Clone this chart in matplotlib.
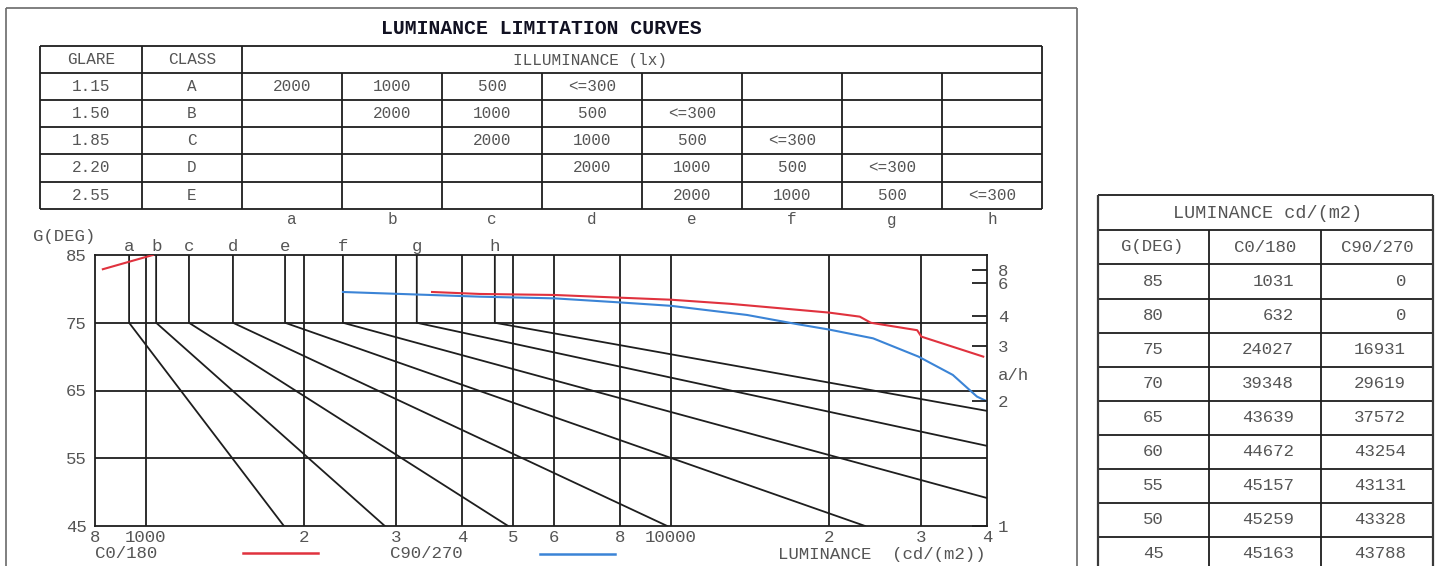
import numpy as np
import matplotlib
matplotlib.use("Agg")
import matplotlib.pyplot as plt
from matplotlib.ticker import NullLocator

# ---------------- data ----------------
glare_values = ["1.15", "1.50", "1.85", "2.20", "2.55"]
glare_classes = ["A", "B", "C", "D", "E"]
illuminance_levels = ["2000", "1000", "500", "<=300"]
curve_letters = ["a", "b", "c", "d", "e", "f", "g", "h"]

# limiting curves a..h : luminance at 75 deg (vertical part up to 85) and at 45 deg
curve_lum_75 = [929, 1046, 1208, 1465, 1841, 2373, 3281, 4620]
curve_lum_45 = [1832, 2852, 4898, 9840, 23440, 62800, 203700, 671000]

# luminance table
table_angles = [85, 80, 75, 70, 65, 60, 55, 50, 45]
table_c0 = [1031, 632, 24027, 39348, 43639, 44672, 45157, 45259, 45163]
table_c90 = [0, 0, 16931, 29619, 37572, 43254, 43131, 43328, 43788]

# C0/180 curve
c0_top_lum = [828, 1031]
c0_top_deg = [82.9, 85.0]
c0_lum = [3508, 4325, 6000, 8000, 10000, 12940, 20000, 22900, 24027, 29450, 30000, 39348]
c0_deg = [79.54, 79.25, 79.1, 78.7, 78.4, 77.8, 76.5, 75.9, 75.0, 73.9, 72.95, 70.0]

# C90/270 curve
c90_lum = [2373, 4325, 6000, 8000, 10000, 13960, 17380, 20000, 24270, 29619, 34430, 38280, 40000]
c90_deg = [79.54, 78.85, 78.6, 78.0, 77.5, 76.15, 74.8, 74.0, 72.7, 70.0, 67.3, 64.1, 63.4]

# axes ticks
x_ticks = [800, 1000, 2000, 3000, 4000, 5000, 6000, 8000, 10000, 20000, 30000, 40000]
x_tick_labels = ["8", "1000", "2", "3", "4", "5", "6", "8", "10000", "2", "3", "4"]
y_ticks = [85, 75, 65, 55, 45]
ah_tick_deg = [82.8, 80.9, 76.0, 71.6, 63.5, 45.0]
ah_tick_labels = ["8", "6", "4", "3", "2", "1"]

# ---------------- style ----------------
MONO = ["Liberation Mono", "DejaVu Sans Mono"]
LINE = "#1e1e1e"
TXT = "#555555"
RED = "#e0323e"
BLUE = "#3b84d6"
W, H = 1441, 566
FS = 12.5

fig = plt.figure(figsize=(W / 100, H / 100), dpi=100)
bg = fig.add_axes([0, 0, 1, 1], zorder=0)
bg.set_xlim(0, W)
bg.set_ylim(H, 0)
bg.axis("off")

def hline(y, x0, x1, lw=1.3, c=LINE):
    bg.plot([x0, x1], [y, y], color=c, lw=lw, solid_capstyle="butt")

def vline(x, y0, y1, lw=1.3, c=LINE):
    bg.plot([x, x], [y0, y1], color=c, lw=lw, solid_capstyle="butt")

def txt(x, y, s, size=11.5, ha="center", **kw):
    bg.text(x, y, s, fontsize=size, ha=ha, va="center", family=MONO, color=kw.pop("color", TXT), **kw)

# outer frame
hline(8, 6, 1077, lw=1.2, c="#6a6a6a")
vline(6, 8, H + 5, lw=1.2, c="#6a6a6a")
vline(1077, 8, H + 5, lw=1.2, c="#6a6a6a")

# title
txt(541, 28, "LUMINANCE LIMITATION CURVES", size=14.2, color="#111122", fontweight="bold")

# ---- top table ----
t_left, t_right = 40, 1042
row_y = [46, 73, 100, 127, 154, 182, 209]
col_x = [40, 142, 242, 342, 442, 542, 642, 742, 842, 942, 1042]
for y in row_y:
    hline(y, t_left, t_right)
for i, x in enumerate(col_x):
    if i <= 2 or i == len(col_x) - 1:
        vline(x, row_y[0], row_y[-1])
    else:
        vline(x, row_y[1], row_y[-1])
txt(91, 60, "GLARE")
txt(192, 60, "CLASS")
txt(590, 60, "ILLUMINANCE (lx)")
for r, (g, c) in enumerate(zip(glare_values, glare_classes)):
    yc = (row_y[r + 1] + row_y[r + 2]) / 2
    txt(91, yc, g)
    txt(192, yc, c)
    for k, lev in enumerate(illuminance_levels):
        col = r + k
        xc = (col_x[2 + col] + col_x[3 + col]) / 2
        txt(xc, yc, lev)
for k, lt in enumerate(curve_letters):
    xc = (col_x[2 + k] + col_x[3 + k]) / 2
    txt(xc, 220, lt)

# ---- right table ----
r_left, r_right = 1098, 1433
r_cols = [1098, 1209, 1321, 1433]
r_rows = [195, 230, 264, 299, 333, 367, 401, 435, 469, 503, 537, 571]
for y in r_rows:
    hline(y, r_left, r_right)
vline(r_left, r_rows[0], r_rows[-1], lw=1.6, c="#3a3a3a")
vline(r_right, r_rows[0], r_rows[-1], lw=1.6, c="#3a3a3a")
for x in r_cols[1:-1]:
    vline(x, r_rows[1], r_rows[-1])
txt(1268, 213, "LUMINANCE cd/(m2)", size=13.3)
txt(1152, 247, "G(DEG)", size=FS)
txt(1265, 247, "C0/180", size=FS)
txt(1377, 247, "C90/270", size=FS)
for i, (a, v0, v90) in enumerate(zip(table_angles, table_c0, table_c90)):
    yc = (r_rows[i + 2] + r_rows[i + 3]) / 2
    txt(1153, yc, str(a), size=FS)
    txt(1294, yc, str(v0), size=FS, ha="right")
    txt(1406, yc, str(v90), size=FS, ha="right")

# ---- legend ----
txt(95, 554, "C0/180", size=FS, ha="left")
bg.plot([243, 318], [553, 553], color=RED, lw=1.8)
txt(390, 554, "C90/270", size=FS, ha="left")
bg.plot([540, 615], [554, 554], color=BLUE, lw=1.8)
txt(986, 554, "LUMINANCE  (cd/(m2))", size=FS, ha="right")
txt(33, 236, "G(DEG)", size=FS, ha="left")
txt(998, 375, "a/h", size=FS, ha="left")

# ---------------- main chart ----------------
ax_l, ax_r, ax_t, ax_b = 95, 987, 255, 526
ax = fig.add_axes([ax_l / W, (H - ax_b) / H, (ax_r - ax_l) / W, (ax_b - ax_t) / H], zorder=2)
ax.set_facecolor("none")
ax.set_xscale("log")
ax.set_xlim(800, 40000)
ax.set_ylim(45, 85)
for s in ax.spines.values():
    s.set_color(LINE)
    s.set_linewidth(1.3)

# grid
for xv in x_ticks[1:-1]:
    ax.axvline(xv, color=LINE, lw=1.3)
for yv in y_ticks[1:-1]:
    ax.axhline(yv, color=LINE, lw=1.3)

# limiting curves
for lt, l75, l45 in zip(curve_letters, curve_lum_75, curve_lum_45):
    ax.plot([l75, l75, l45], [85, 75, 45], color=LINE, lw=1.3)
    ax.text(l75, 1.033, lt, transform=ax.get_xaxis_transform(), ha="center", va="center",
            fontsize=FS, family=MONO, color=TXT)

# measured curves
ax.plot(c0_top_lum, c0_top_deg, color=RED, lw=1.5, zorder=5)
ax.plot(c0_lum, c0_deg, color=RED, lw=1.5, zorder=5)
ax.plot(c90_lum, c90_deg, color=BLUE, lw=1.5, zorder=5)

ax.xaxis.set_minor_locator(NullLocator())
ax.set_xticks(x_ticks)
ax.set_xticklabels(x_tick_labels)
ax.set_yticks(y_ticks)
ax.tick_params(axis="both", length=0, labelsize=FS, labelcolor=TXT)
ax.tick_params(axis="x", pad=3)
ax.tick_params(axis="y", pad=6)
for lab in ax.get_xticklabels() + ax.get_yticklabels():
    lab.set_family(MONO)

ax2 = ax.twinx()
ax2.set_ylim(45, 85)
ax2.set_yticks(ah_tick_deg)
ax2.set_yticklabels(ah_tick_labels)
ax2.tick_params(axis="y", direction="in", length=11, width=1.3, color=LINE, pad=8,
                labelsize=FS, labelcolor=TXT)
for lab in ax2.get_yticklabels():
    lab.set_family(MONO)
for s in ax2.spines.values():
    s.set_visible(False)

fig.savefig("out.png", dpi=100)
